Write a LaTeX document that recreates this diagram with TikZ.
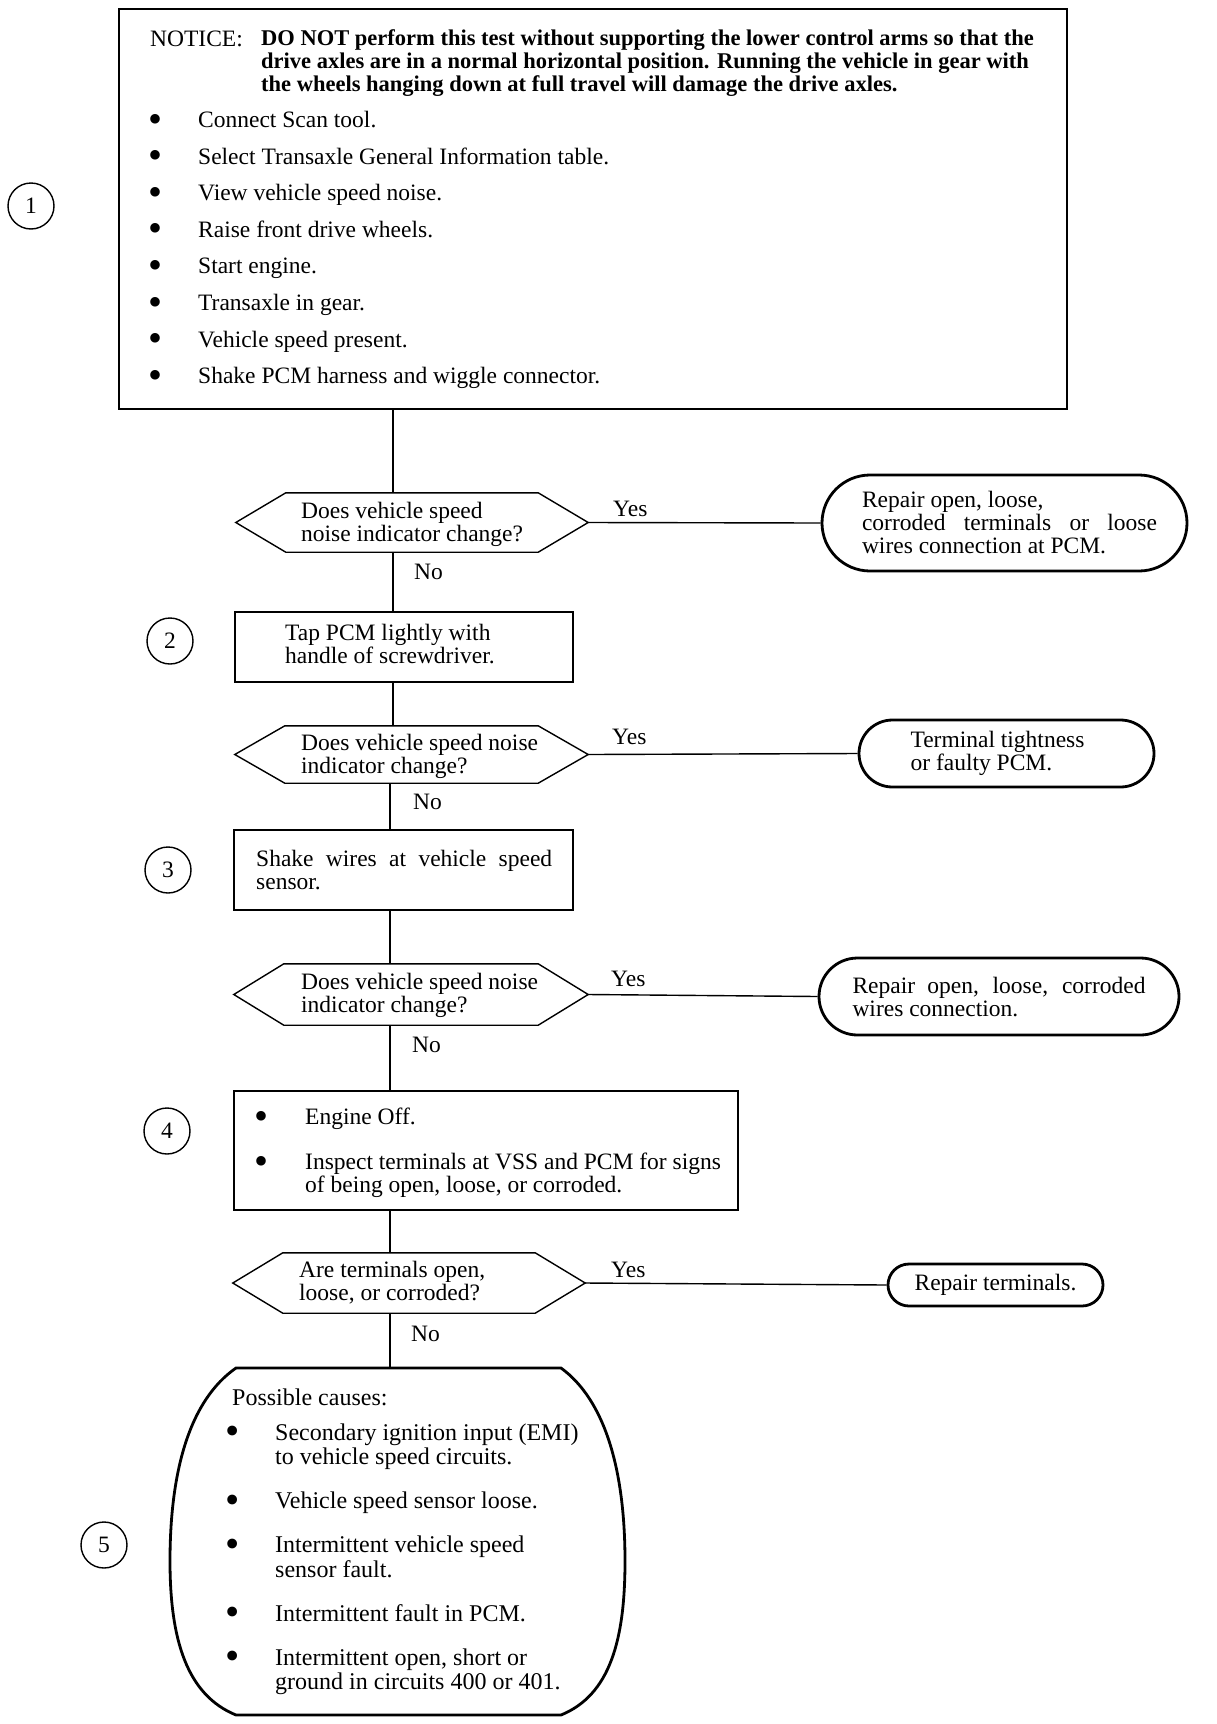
\documentclass[tikz,border=0pt]{standalone}
\usepackage{fontspec}
\setmainfont{Liberation Serif}
\usetikzlibrary{shapes.misc,calc}
\newcommand\mybul[1]{\makebox[#1][l]{\hspace*{-2.5pt}\raisebox{-4.5pt}{\scalebox{1.7}{•}}}}
\newcommand\myind[1]{\hspace*{#1}}
\newcommand\hexdraw[1]{\draw[hexa] (#1.west) -- ($(#1.north west)+(50,0)$) -- ($(#1.north east)+(-50,0)$) -- (#1.east) -- ($(#1.south east)+(-50,0)$) -- ($(#1.south west)+(50,0)$) -- cycle;}
\begin{document}
\begin{tikzpicture}[x=1pt,y=-1pt,
  tx/.style={anchor=north west, inner sep=0pt, align=left, font=\fontsize{23.5}{23}\selectfont, execute at begin node={\rule{0pt}{17pt}}},
  lbl/.style={anchor=base west, inner sep=0pt, font=\fontsize{23.5}{23}\selectfont},
  box/.style={draw, line width=2.6pt, rectangle, inner sep=0pt},
  term/.style={draw, line width=2.8pt, rounded rectangle, inner sep=0pt, align=left, font=\fontsize{23.5}{23}\selectfont},
  dec/.style={inner sep=0pt},
  hexa/.style={line width=1.4pt, line join=miter},
  conn/.style={line width=1.4pt},
  num/.style={draw, circle, line width=1.4pt, minimum size=46pt, inner sep=0pt, font=\fontsize{23.5}{23}\selectfont}
]
\useasboundingbox[fill=white] (0,0) rectangle (1216,1724);

\coordinate (cA) at (393,0);
\coordinate (cB) at (390,0);

% shapes
\node[box, minimum width=948pt, minimum height=400pt] (b1) at (593,209) {};
\node[dec, minimum width=352pt, minimum height=59pt] (d1) at (412,522.5) {};
\node[box, minimum width=338pt, minimum height=70pt] (b2) at (404,647) {};
\node[dec, minimum width=353pt, minimum height=57pt] (d2) at (411.5,754.5) {};
\node[box, minimum width=339pt, minimum height=80pt] (b3) at (403.5,870) {};
\node[dec, minimum width=354pt, minimum height=61pt] (d3) at (411,994.5) {};
\node[box, minimum width=504pt, minimum height=119pt] (b4) at (486,1150.5) {};
\node[dec, minimum width=352pt, minimum height=60pt] (d4) at (409,1283) {};
\node[dec, minimum width=455pt, minimum height=347pt] (b5) at (397.5,1541.5) {};

\hexdraw{d1}
\hexdraw{d2}
\hexdraw{d3}
\hexdraw{d4}

\draw[line width=2.8pt] (236,1368) -- (561,1368) .. controls (605,1400) and (625,1470) .. (625,1561) .. controls (625,1640) and (610,1695) .. (561,1715) -- (236,1715) .. controls (187,1695) and (170,1640) .. (170,1561) .. controls (170,1470) and (190,1400) .. (236,1368) -- cycle;

\node[term, minimum width=365pt, minimum height=96pt] (t1) at (1004.5,523) {\hspace*{10pt}Repair open, loose,\\\hspace*{10pt}\makebox[295pt][s]{corroded terminals or loose}\\\hspace*{10pt}wires connection at PCM.};
\node[term, minimum width=295pt, minimum height=67pt] (t2) at (1006.5,753.5) {Terminal tightness\hspace*{18pt}\\or faulty PCM.};
\node[term, minimum width=360pt, minimum height=77pt] (t3) at (999,996.5) {\makebox[293pt][s]{Repair open, loose, corroded}\\wires connection.};
\node[term, minimum width=215pt, minimum height=42pt] (t4) at (995.5,1285) {Repair terminals.};

% numbers
\node[num] (n1) at (31,206) {1};
\node[num] (n2) at (170,641) {2};
\node[num] (n3) at (168,870) {3};
\node[num] (n4) at (167,1131) {4};
\node[num] (n5) at (104,1545) {5};

% texts
\node[lbl] (notice) at (150,46) {NOTICE:};
\node[tx, font=\bfseries\fontsize{22.5}{23}\selectfont] (warn) at (261,29) {DO NOT perform this test without supporting the lower control arms so that the\\drive axles are in a normal horizontal position. Running the vehicle in gear with\\the wheels hanging down at full travel will damage the drive axles.};
\node[tx, font=\fontsize{23.5}{36.6}\selectfont] (list1) at (151,111) {\mybul{47pt}Connect Scan tool.\\\mybul{47pt}Select Transaxle General Information table.\\\mybul{47pt}View vehicle speed noise.\\\mybul{47pt}Raise front drive wheels.\\\mybul{47pt}Start engine.\\\mybul{47pt}Transaxle in gear.\\\mybul{47pt}Vehicle speed present.\\\mybul{47pt}Shake PCM harness and wiggle connector.};

\node[tx] (q1) at (301,502) {Does vehicle speed\\noise indicator change?};
\node[tx] (s2) at (285,624) {Tap PCM lightly with\\handle of screwdriver.};
\node[tx] (q2) at (301,734) {Does vehicle speed noise\\indicator change?};
\node[tx] (s3) at (256,850) {\makebox[296pt][s]{Shake wires at vehicle speed}\\sensor.};
\node[tx] (q3) at (301,973) {Does vehicle speed noise\\indicator change?};
\node[tx] (s4) at (257,1108) {\mybul{48pt}Engine Off.\\[22pt]\mybul{48pt}Inspect terminals at VSS and PCM for signs\\\myind{48pt}of being open, loose, or corroded.};
\node[tx] (q4) at (299,1261) {Are terminals open,\\loose, or corroded?};
\node[tx, font=\fontsize{24}{24.5}\selectfont] (s5) at (228,1389) {\myind{4pt}Possible causes:\\[10pt]\mybul{47pt}Secondary ignition input (EMI)\\\myind{47pt}to vehicle speed circuits.\\[19.5pt]\mybul{47pt}Vehicle speed sensor loose.\\[19.5pt]\mybul{47pt}Intermittent vehicle speed\\\myind{47pt}sensor fault.\\[19.5pt]\mybul{47pt}Intermittent fault in PCM.\\[19.5pt]\mybul{47pt}Intermittent open, short or\\\myind{47pt}ground in circuits 400 or 401.};

\node[lbl] (y1) at (613,516) {Yes};
\node[lbl] (y2) at (612,744) {Yes};
\node[lbl] (y3) at (611,986) {Yes};
\node[lbl] (y4) at (611,1277) {Yes};
\node[lbl] (no1) at (414,579) {No};
\node[lbl] (no2) at (413,809) {No};
\node[lbl] (no3) at (412,1052) {No};
\node[lbl] (no4) at (411,1341) {No};

% connectors
\draw[conn] (b1.south -| cA) -- (d1.north -| cA);
\draw[conn] (d1.south -| cA) -- (b2.north -| cA);
\draw[conn] (b2.south -| cA) -- (d2.north -| cA);
\draw[conn] (d2.south -| cB) -- (b3.north -| cB);
\draw[conn] (b3.south -| cB) -- (d3.north -| cB);
\draw[conn] (d3.south -| cB) -- (b4.north -| cB);
\draw[conn] (b4.south -| cB) -- (d4.north -| cB);
\draw[conn] (d4.south -| cB) -- (b5.north -| cB);
\draw[conn] (d1.east) -- (t1.west);
\draw[conn] (d2.east) -- (t2.west);
\draw[conn] (d3.east) -- (t3.west);
\draw[conn] (d4.east) -- (t4.west);
\end{tikzpicture}
\end{document}
